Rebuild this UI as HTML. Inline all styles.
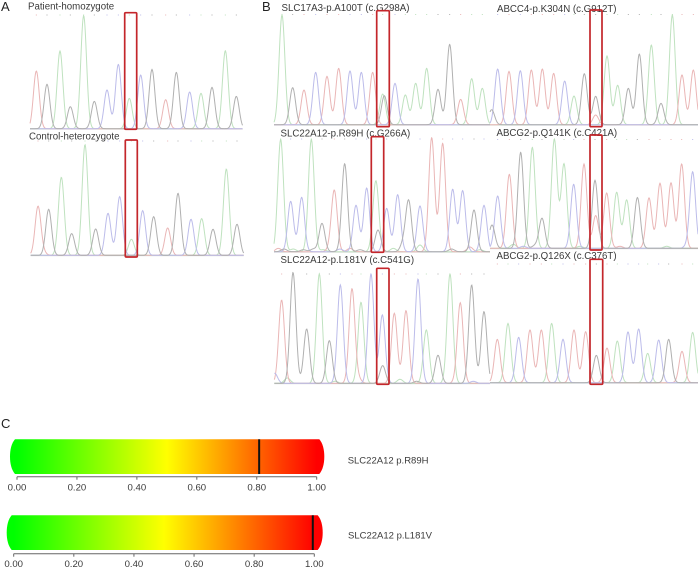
<!DOCTYPE html>
<html lang="en">
<head>
<meta charset="utf-8">
<title>Sanger chromatograms and pathogenicity score bars</title>
<style>
  html, body { margin: 0; padding: 0; background: #fff; }
  svg { display: block; filter: blur(0.35px); }
  text { font-family: "Liberation Sans", sans-serif; fill: #3a3a3a; }
  .title { font-size: 9.7px; }
  .panel { font-size: 13px; fill: #222; }
  .tick { font-size: 9.6px; text-anchor: middle; }
  .score-name { font-size: 9.5px; }
</style>
</head>
<body>
<svg id="figure" xmlns="http://www.w3.org/2000/svg" width="698" height="568" viewBox="0 0 698 568">
  <defs>
    <linearGradient id="risk-a" gradientUnits="userSpaceOnUse" x1="17" x2="316.7" y1="0" y2="0">
      <stop offset="0" stop-color="#00ff00"/><stop offset="0.5" stop-color="#ffff00"/><stop offset="1" stop-color="#ff0000"/>
    </linearGradient>
    <linearGradient id="risk-b" gradientUnits="userSpaceOnUse" x1="13.7" x2="314.3" y1="0" y2="0">
      <stop offset="0" stop-color="#00ff00"/><stop offset="0.5" stop-color="#ffff00"/><stop offset="1" stop-color="#ff0000"/>
    </linearGradient>
  </defs>

  <text class="panel" x="1" y="11">A</text>
  <text class="panel" x="262" y="11">B</text>
  <text class="panel" x="1" y="428">C</text>

  <text class="title" x="28" y="9.5">Patient-homozygote</text>
  <text class="title" x="29" y="139.5">Control-heterozygote</text>
  <text class="title" x="281.5" y="11">SLC17A3-p.A100T (c.G298A)</text>
  <text class="title" x="280.5" y="136.5">SLC22A12-p.R89H (c.G266A)</text>
  <text class="title" x="280.5" y="263">SLC22A12-p.L181V (c.C541G)</text>
  <text class="title" x="497" y="12">ABCC4-p.K304N (c.G912T)</text>
  <text class="title" x="496.5" y="136">ABCG2-p.Q141K (c.C421A)</text>
  <text class="title" x="496.5" y="259">ABCG2-p.Q126X (c.C376T)</text>

  <g id="traces"></g>
  <g id="highlights"></g>

  <g id="scores"></g>
  <text class="score-name" x="347.7" y="463.5">SLC22A12 p.R89H</text>
  <text class="score-name" x="348" y="538.5">SLC22A12 p.L181V</text>
</svg>

<script>
// ---- Chromatogram data: base calls, scan position, peak signal ----
const patientBases = "TGAGAGCCACGTGCAGAG";
const patientScans = [109,141,180,211,251,283,321,355,388,422,456,497,529,569,603,636,676,709];
const patientSignal = [173,133,233,66,339,82,116,193,91,161,178,87,169,110,106,124,234,97];

const controlBases = "TGAGAGCCACGTGCAGAG";
const controlScans = [114,146,184,215,255,287,324,359,394,428,461,503,534,573,605,639,679,711];
const controlSignal = [146,138,234,65,332,79,126,176,42,134,116,82,186,108,110,78,259,93];
const controlMinorBases = "TA";
const controlMinorScans = [130,396];
const controlMinorSignal = [8,6];

const a100tBases = "AGTCTTCCTACAAAGGTAA";
const a100tScans = [66,98,132,167,201,236,270,304,338,368,405,436,467,500,534,569,602,635,667];
const a100tSignal = [329,111,104,157,145,169,161,157,157,92,124,89,124,169,106,241,76,138,109];
const a100tMinorBases = "G";
const a100tMinorScans = [373];
const a100tMinorSignal = [87];

const r89hBases = "ACCAGTGCCACCGCTTCCGC";
const r89hScans = [62,92,125,154,186,223,254,288,320,348,380,413,446,480,515,548,578,608,642,672];
const r89hSignal = [337,151,163,337,85,182,264,139,191,203,130,171,151,137,337,325,187,183,125,139];
const r89hMinorBases = "GTGAGGATCTGAAGATGTA";
const r89hMinorScans = [354,55,72,100,130,160,190,210,240,270,300,340,400,430,480,520,575,630,660];
const r89hMinorSignal = [65,10,8,8,6,8,6,10,8,10,6,15,10,25,20,6,8,14,6];

const l181vBases = "TGGAGCTACCTTCAGATGG";
const l181vScans = [65,99,140,178,208,241,276,303,333,367,403,438,474,499,534,570,601,635,672];
const l181vSignal = [243,328,163,328,128,295,283,243,328,205,210,218,313,160,84,328,238,295,215];
const l181vMinorBases = "GCATGATAGTC";
const l181vMinorScans = [368,44,82,60,105,225,295,420,470,590,640];
const l181vMinorSignal = [53,30,16,8,6,6,14,12,6,8,6];

const k304nBases = "CTCTTTCAGGAAGGAGATT";
const k304nScans = [53,87,121,154,187,221,254,282,313,347,381,413,445,478,514,543,577,606,640];
const k304nSignal = [167,160,162,164,167,154,131,86,153,85,206,118,109,212,239,64,329,149,164];
const k304nMinorBases = "TG";
const k304nMinorScans = [347,35];
const k304nMinorSignal = [29,45];

const q141kBases = "CTGAGAACTGTAAGTTTTC";
const q141kScans = [53,88,122,157,186,223,252,281,312,345,380,410,440,472,507,540,573,605,638];
const q141kSignal = [157,222,288,303,90,327,253,192,253,204,166,168,145,147,151,195,196,253,229];
const q141kMinorBases = "TGACGATGAC";
const q141kMinorScans = [347,36,100,130,165,300,420,480,560,620];
const q141kMinorSignal = [98,70,12,6,8,6,6,8,6,6];

const q126xBases = "TACTTACTTGTACCACGTA";
const q126xScans = [52,84,116,150,184,215,249,282,317,349,381,412,444,476,503,536,566,606,638];
const q126xSignal = [130,178,136,158,158,178,130,158,153,82,104,125,152,161,88,128,130,94,151];

// ---- Score bar data ----
const scoreTickLabels = ["0.00","0.20","0.40","0.60","0.80","1.00"];
const scoreTickValues = [0,0.2,0.4,0.6,0.8,1];
const r89hScore = [0.808];
const l181vScore = [0.995];

// ---- Layout (separate from the data) ----
const NS = "http://www.w3.org/2000/svg";
const SIGMA = 8.7;              // peak width in scan units
const channelColor = { A: "#bfe2bf", C: "#bcbcea", G: "#b0b0b0", T: "#eab6b6" };
const channelOrder = ["A", "T", "C", "G"];

const chromatograms = [
  { id:"patient", bases:patientBases, scans:patientScans, signal:patientSignal, mb:"", ms:[], mv:[],
    left:0, base:128.7, dotY:15, from:90, to:728, box:[124.7,12.7,136.7,129.3] },
  { id:"control", bases:controlBases, scans:controlScans, signal:controlSignal, mb:controlMinorBases, ms:controlMinorScans, mv:controlMinorSignal,
    left:0, base:255.3, dotY:141, from:92, to:731, box:[125.3,140,137.3,257] },
  { id:"a100t", bases:a100tBases, scans:a100tScans, signal:a100tSignal, mb:a100tMinorBases, ms:a100tMinorScans, mv:a100tMinorSignal,
    left:260, base:124.7, dotY:14.5, from:42, to:690, box:[376.7,10.7,389.3,126.7] },
  { id:"r89h", bases:r89hBases, scans:r89hScans, signal:r89hSignal, mb:r89hMinorBases, ms:r89hMinorScans, mv:r89hMinorSignal,
    left:260, base:251.7, dotY:139, from:42, to:690, box:[371.3,136.7,383.7,252.3] },
  { id:"l181v", bases:l181vBases, scans:l181vScans, signal:l181vSignal, mb:l181vMinorBases, ms:l181vMinorScans, mv:l181vMinorSignal,
    left:260, base:383.3, dotY:274, from:43, to:690, box:[376.7,268.3,389,384.3] },
  { id:"k304n", bases:k304nBases, scans:k304nScans, signal:k304nSignal, mb:k304nMinorBases, ms:k304nMinorScans, mv:k304nMinorSignal,
    left:480, base:124.7, dotY:14.5, from:30, to:654, box:[590,10,602,126.7] },
  { id:"q141k", bases:q141kBases, scans:q141kScans, signal:q141kSignal, mb:q141kMinorBases, ms:q141kMinorScans, mv:q141kMinorSignal,
    left:480, base:248.3, dotY:139.5, from:30, to:654, box:[590,135,602,250] },
  { id:"q126x", bases:q126xBases, scans:q126xScans, signal:q126xSignal, mb:"", ms:[], mv:[],
    left:480, base:382.7, dotY:264, from:30, to:654, box:[590,259.3,602.7,384.3] }
];

const scoreBars = [
  { id:"r89h", score:r89hScore, grad:"risk-a", axisFrom:17, axisTo:316.7, axisY:476.7, labelY:490.5, barL:10, barR:324.3, barT:439.3, barB:474 },
  { id:"l181v", score:l181vScore, grad:"risk-b", axisFrom:13.7, axisTo:314.3, axisY:553.7, labelY:566.8, barL:6.7, barR:322.7, barT:515.3, barB:550 }
];

function make(tag, parent) {
  const el = document.createElementNS(NS, tag);
  parent.appendChild(el);
  return el;
}

const traceLayer = document.getElementById("traces");
const highlightLayer = document.getElementById("highlights");
const scoreLayer = document.getElementById("scores");

chromatograms.forEach(function (c) {
  const xScale = function (scan) { return c.left + scan / 3; };
  const yScale = function (signal) { return c.base - signal / 3; };

  const group = make("g", traceLayer);
  
  

  const baseline = make("line", group);
  
  
  baseline.setAttribute("x1", xScale(c.from));
  baseline.setAttribute("x2", xScale(c.to));
  baseline.setAttribute("y1", c.base + 0.3);
  baseline.setAttribute("y2", c.base + 0.3);
  baseline.setAttribute("stroke", "#c4c4c4");
  baseline.setAttribute("stroke-width", "1");

  channelOrder.forEach(function (ch) {
    const peaks = [];
    for (let i = 0; i < c.scans.length; i++) {
      if (c.bases[i] === ch) peaks.push([c.scans[i], c.signal[i]]);
    }
    for (let i = 0; i < c.ms.length; i++) {
      if (c.mb[i] === ch) peaks.push([c.ms[i], c.mv[i]]);
    }
    let d = "";
    for (let s = c.from; s <= c.to; s += 1.5) {
      let v = 0;
      peaks.forEach(function (p) {
        const z = (s - p[0]) / SIGMA;
        v += p[1] * Math.exp(-0.5 * z * z);
      });
      d += (d ? "L" : "M") + xScale(s).toFixed(2) + " " + yScale(v).toFixed(2);
    }
    const trace = make("path", group);
    
    
    trace.setAttribute("d", d);
    trace.setAttribute("fill", "none");
    trace.setAttribute("stroke", channelColor[ch]);
    trace.setAttribute("stroke-width", "1");
  });

  c.scans.forEach(function (scan, i) {
    const dot = make("rect", group);
    
    
    dot.setAttribute("x", xScale(scan) - 0.5);
    dot.setAttribute("y", c.dotY - 0.5);
    dot.setAttribute("width", "1");
    dot.setAttribute("height", "1");
    dot.setAttribute("fill", channelColor[c.bases[i]]);
  });

  const box = make("rect", highlightLayer);
  
  
  box.setAttribute("x", c.box[0]);
  box.setAttribute("y", c.box[1]);
  box.setAttribute("width", c.box[2] - c.box[0]);
  box.setAttribute("height", c.box[3] - c.box[1]);
  box.setAttribute("rx", "1");
  box.setAttribute("fill", "none");
  box.setAttribute("stroke", "#c4262b");
  box.setAttribute("stroke-width", "1.7");
});

scoreBars.forEach(function (b) {
  const xScale = function (v) { return b.axisFrom + v * (b.axisTo - b.axisFrom); };

  const group = make("g", scoreLayer);
  
  

  const mid = (b.barT + b.barB) / 2;
  const bar = make("path", group);
  
  
  bar.setAttribute("d",
    "M" + (b.barL + 5) + " " + b.barT +
    " H" + (b.barR - 5) +
    " C" + (b.barR - 1.5) + " " + (b.barT + 4) + " " + b.barR + " " + (mid - 7) + " " + b.barR + " " + mid +
    " C" + b.barR + " " + (mid + 7) + " " + (b.barR - 1.5) + " " + (b.barB - 4) + " " + (b.barR - 5) + " " + b.barB +
    " H" + (b.barL + 5) +
    " C" + (b.barL + 1.5) + " " + (b.barB - 4) + " " + b.barL + " " + (mid + 7) + " " + b.barL + " " + mid +
    " C" + b.barL + " " + (mid - 7) + " " + (b.barL + 1.5) + " " + (b.barT + 4) + " " + (b.barL + 5) + " " + b.barT + " Z");
  bar.setAttribute("fill", "url(#" + b.grad + ")");

  const marker = make("rect", group);
  
  
  marker.setAttribute("x", xScale(b.score[0]) - 1);
  marker.setAttribute("y", b.barT);
  marker.setAttribute("width", "2");
  marker.setAttribute("height", b.barB - b.barT);
  marker.setAttribute("fill", "#111");

  const axis = make("line", group);
  
  
  axis.setAttribute("x1", b.axisFrom);
  axis.setAttribute("x2", b.axisTo);
  axis.setAttribute("y1", b.axisY);
  axis.setAttribute("y2", b.axisY);
  axis.setAttribute("stroke", "#666");
  axis.setAttribute("stroke-width", "1");

  scoreTickValues.forEach(function (v, i) {
    const tick = make("line", group);
    
    
    tick.setAttribute("x1", xScale(v));
    tick.setAttribute("x2", xScale(v));
    tick.setAttribute("y1", b.axisY);
    tick.setAttribute("y2", b.axisY + 3);
    tick.setAttribute("stroke", "#666");
    tick.setAttribute("stroke-width", "1");

    const label = make("text", group);
    
    
    label.setAttribute("class", "tick");
    label.setAttribute("x", xScale(v));
    label.setAttribute("y", b.labelY);
    label.textContent = scoreTickLabels[i];
  });
});
</script>
</body>
</html>
